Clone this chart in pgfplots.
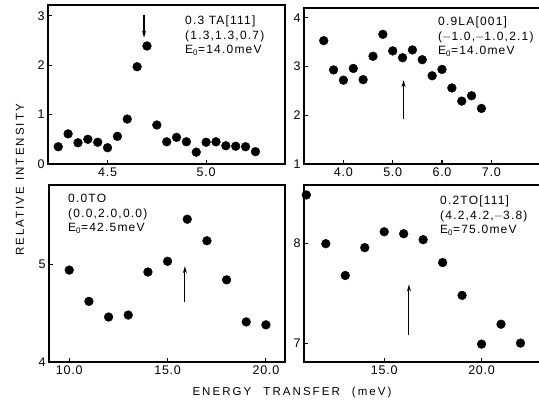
\documentclass[border=0pt]{standalone}
\usepackage{fontspec}
\setmainfont{Liberation Sans}
\newfontfamily\lbl[LetterSpace=10]{Liberation Sans}
\newfontfamily\axl[LetterSpace=18]{Liberation Sans}
\newfontfamily\tkl[LetterSpace=6]{Liberation Sans}
\usepackage{pgfplots}
\pgfplotsset{compat=1.18}
\usetikzlibrary{arrows.meta}

\pgfplotsset{
  panel/.style={
    scale only axis, anchor=south west,
    axis line style={line width=1.5pt},
    tick pos=left, tick align=inside,
    major tick length=4pt,
    every tick/.style={line width=1.1pt, black},
    tick label style={font=\tkl\fontsize{12.5}{13}\selectfont},
    /pgf/number format/assume math mode=true,
    xticklabel style={/pgf/number format/.cd, fixed, fixed zerofill, precision=1},
    clip=false,
  },
  pts/.style={only marks, mark=*, mark size=4.4pt, black},
}
\tikzset{arr/.style={line width=1.1pt, -{Stealth[length=7pt,width=4pt]}}}

\begin{document}
\begin{tikzpicture}
\useasboundingbox (0pt,0pt) rectangle (539pt,-404pt);
\clip (0pt,0pt) rectangle (539pt,-404pt);

% top left: 0.3 TA[111]
\begin{axis}[panel, at={(48pt,-164pt)}, width=237pt, height=159pt,
  xmin=4.198, xmax=5.40, ymin=0, ymax=3.22,
  xtick={4.5,5.0}, ytick={0,1,2,3}]
\addplot[pts] coordinates {
  (4.25,0.35) (4.30,0.61) (4.35,0.43) (4.40,0.50) (4.45,0.44)
  (4.50,0.33) (4.55,0.56) (4.60,0.91) (4.65,1.97) (4.70,2.39)
  (4.75,0.79) (4.80,0.45) (4.85,0.54) (4.90,0.45) (4.95,0.24)
  (5.00,0.44) (5.05,0.45) (5.10,0.37) (5.15,0.36) (5.20,0.35)
  (5.25,0.25)};
\draw[arr] (axis cs:4.685,3.02) -- (axis cs:4.685,2.56);
\end{axis}

% top right: 0.9 LA[001]
\begin{axis}[panel, at={(304pt,-164pt)}, width=242pt, height=156pt,
  xmin=3.20, xmax=8.11, ymin=1, ymax=4.20,
  xtick={4,5,6,7}, ytick={1,2,3,4}]
\addplot[pts] coordinates {
  (3.6,3.53) (3.8,2.93) (4.0,2.72) (4.2,2.96) (4.4,2.73)
  (4.6,3.21) (4.8,3.66) (5.0,3.32) (5.2,3.18) (5.4,3.34)
  (5.6,3.14) (5.8,2.81) (6.0,2.94) (6.2,2.56) (6.4,2.29)
  (6.6,2.40) (6.8,2.14)};
\draw[arr] (axis cs:5.22,1.92) -- (axis cs:5.22,2.72);
\end{axis}

% bottom left: 0.0 TO
\begin{axis}[panel, at={(49pt,-362pt)}, width=236pt, height=177pt,
  xmin=8.97, xmax=20.97, ymin=4, ymax=5.81,
  xtick={10,15,20}, ytick={4,5}]
\addplot[pts] coordinates {
  (10,4.94) (11,4.62) (12,4.46) (13,4.48) (14,4.92) (15,5.03)
  (16,5.46) (17,5.24) (18,4.84) (19,4.41) (20,4.38)};
\draw[arr] (axis cs:15.88,4.61) -- (axis cs:15.88,4.98);
\end{axis}

% bottom right: 0.2 TO[111]
\begin{axis}[panel, at={(304pt,-362pt)}, width=242pt, height=177pt,
  xmin=10.88, xmax=23.31, ymin=6.81, ymax=8.59,
  xtick={15,20}, ytick={7,8}]
\addplot[pts] coordinates {
  (11,8.49) (12,8.00) (13,7.68) (14,7.96) (15,8.12) (16,8.10)
  (17,8.04) (18,7.81) (19,7.48) (20,6.99) (21,7.19) (22,7.00)};
\draw[arr] (axis cs:16.27,7.08) -- (axis cs:16.27,7.59);
\end{axis}

% panel labels
\tikzset{ann/.style={anchor=north west, align=left, inner sep=0pt,
  font=\lbl\fontsize{12}{14.5}\selectfont}}
\node[ann] at (185pt,-16pt) {0.3 TA[111]\\(1.3,1.3,0.7)\\E\textsubscript{0}=14.0meV};
\node[ann] at (438pt,-17pt) {0.9LA[001]\\($-$1.0,$-$1.0,2.1)\\E\textsubscript{0}=14.0meV};
\node[ann] at (68pt,-194pt) {0.0TO\\(0.0,2.0,0.0)\\E\textsubscript{0}=42.5meV};
\node[ann] at (440pt,-196pt) {0.2TO[111]\\(4.2,4.2,$-$3.8)\\E\textsubscript{0}=75.0meV};

% axis titles
\node[rotate=90, font=\axl\fontsize{11.5}{12}\selectfont] at (20pt,-180pt) {RELATIVE\hspace{6pt}INTENSITY};
\node[font=\axl\fontsize{11.5}{12}\selectfont] at (292pt,-393pt) {ENERGY\hspace{12pt}TRANSFER\hspace{12pt}(meV)};
\end{tikzpicture}
\end{document}
